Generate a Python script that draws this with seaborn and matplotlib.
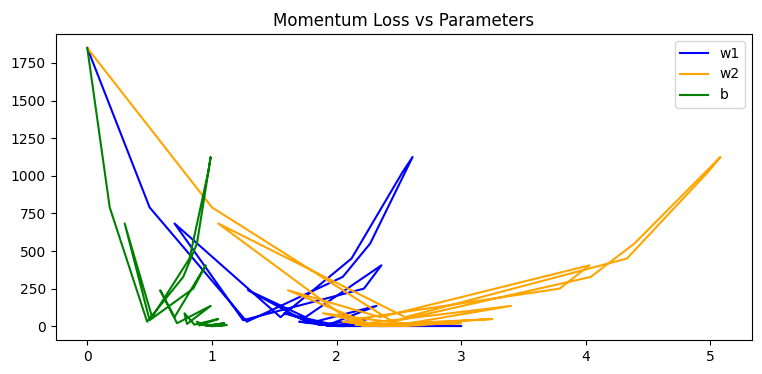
import matplotlib
matplotlib.use("Agg")
import matplotlib.pyplot as plt
import seaborn as sns

# loss and parameter values at each momentum step
loss = [1850, 790, 30, 328, 550, 1125, 1025, 450, 60, 683,
        40, 250, 405, 60, 239, 20, 135, 15, 86, 10,
        48, 5, 30, 4, 20, 3, 12, 2, 8, 1,
        5, 1, 3, 1, 1]
w1 = [0.00, 0.50, 1.28, 2.05, 2.27, 2.61, 2.53, 2.12, 1.55, 0.70,
      1.25, 2.22, 2.36, 1.75, 1.29, 1.78, 2.32, 1.95, 1.58, 1.88,
      2.25, 2.02, 1.70, 1.95, 2.20, 2.05, 1.85, 2.00, 2.15, 2.05,
      1.92, 2.05, 2.12, 2.00, 3.00]
w2 = [0.00, 1.00, 2.45, 4.04, 4.39, 5.08, 4.98, 4.33, 2.55, 1.05,
      2.10, 3.79, 4.03, 2.35, 1.61, 2.25, 3.40, 2.55, 1.89, 2.30,
      3.25, 2.45, 2.05, 2.35, 3.00, 2.40, 2.15, 2.35, 2.70, 2.40,
      2.20, 2.35, 2.50, 2.35, 2.35]
b = [0.00, 0.18, 0.48, 0.77, 0.88, 0.99, 0.97, 0.82, 0.52, 0.30,
     0.50, 0.85, 0.95, 0.70, 0.585, 0.72, 0.99, 0.80, 0.78, 0.86,
     1.05, 0.90, 0.88, 0.95, 1.10, 0.98, 0.92, 1.00, 1.12, 1.00,
     0.96, 1.02, 1.08, 1.01, 1.00]

fig = plt.figure(figsize=(7.62, 3.74), dpi=100)
ax = fig.add_subplot(111)
fig.subplots_adjust(left=0.073, right=0.987, bottom=0.091, top=0.909)

sns.lineplot(x=w1, y=loss, sort=False, estimator=None, color='blue', label='w1', ax=ax)
sns.lineplot(x=w2, y=loss, sort=False, estimator=None, color='orange', label='w2', ax=ax)
sns.lineplot(x=b, y=loss, sort=False, estimator=None, color='green', label='b', ax=ax)

ax.set_title('Momentum Loss vs Parameters')
ax.legend(loc='upper right')
fig.savefig('out.png', dpi=100)
